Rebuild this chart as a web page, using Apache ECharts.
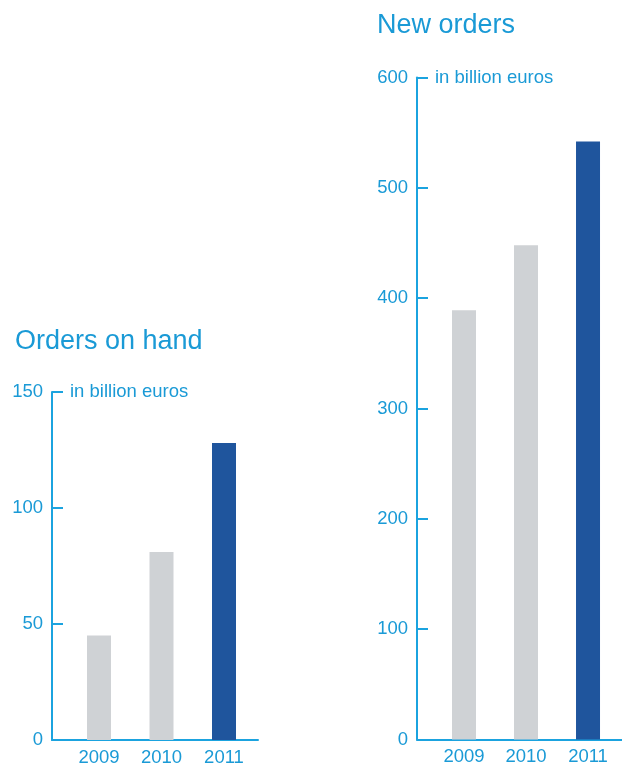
<!DOCTYPE html>
<html>
<head>
<meta charset="utf-8">
<script src="https://cdn.jsdelivr.net/npm/echarts@6/dist/echarts.min.js"></script>
<style>
html,body{margin:0;padding:0;background:#fff;}
#c{width:622px;height:764px;}
</style>
</head>
<body>
<div id="c"></div>
<script>
var categories = ['2009', '2010', '2011'];
var ordersOnHand = [45, 81, 128];
var newOrders = [389, 448, 542];
var barColors = ['#cfd2d5', '#cfd2d5', '#1f559d'];
var leftTicks = { min: 0, max: 150, interval: 50 };
var rightTicks = { min: 0, max: 600, interval: 100 };
var unitLabel = 'in billion euros';
var titles = ['Orders on hand', 'New orders'];

var cyan = '#1a9ad6';
var lineCyan = '#1ba3df';
var font = "'Liberation Sans', Arial, Helvetica, sans-serif";

function barData(vals) {
  return vals.map(function (v, i) {
    return { value: [i, v], itemStyle: { color: barColors[i] } };
  });
}

function xAxisFor(gridIndex, min, max) {
  return {
    type: 'value', gridIndex: gridIndex, min: min, max: max,
    splitLine: { show: false },
    axisTick: { show: false },
    axisLine: { show: true, onZero: false, lineStyle: { color: lineCyan, width: 2 } },
    axisLabel: {
      customValues: [0, 1, 2],
      formatter: function (v) { return categories[Math.round(v)] || ''; },
      color: cyan, fontSize: 18.5, fontFamily: font, margin: 8
    }
  };
}

function yAxisFor(gridIndex, t) {
  return {
    type: 'value', gridIndex: gridIndex, min: t.min, max: t.max, interval: t.interval,
    splitLine: { show: false },
    axisLine: { show: true, onZero: false, lineStyle: { color: lineCyan, width: 2 } },
    axisTick: { show: true, inside: true, length: 11, lineStyle: { color: lineCyan, width: 2 } },
    axisLabel: { color: cyan, fontSize: 18.5, fontFamily: font, margin: 9 },
    name: unitLabel,
    nameLocation: 'end',
    nameGap: 0,
    nameTextStyle: { color: cyan, fontSize: 18.5, fontFamily: font, align: 'left', verticalAlign: 'middle', padding: [0, 0, 0, 18] }
  };
}

var chart = echarts.init(document.getElementById('c'), null, { renderer: 'canvas' });
chart.setOption({
  animation: false,
  backgroundColor: '#fff',
  title: [
    { text: titles[0], left: 15, top: 328, padding: 0,
      textStyle: { color: cyan, fontSize: 27, fontWeight: 'normal', fontFamily: font } },
    { text: titles[1], left: 377, top: 12, padding: 0,
      textStyle: { color: cyan, fontSize: 27, fontWeight: 'normal', fontFamily: font } }
  ],
  grid: [
    { left: 52, top: 392, width: 206, bottom: 24, containLabel: false, outerBoundsMode: 'none' },
    { left: 417, top: 77.5, right: 0, bottom: 24.5, containLabel: false, outerBoundsMode: 'none' }
  ],
  xAxis: [ xAxisFor(0, -0.752, 2.544), xAxisFor(1, -0.758, 2.548) ],
  yAxis: [ yAxisFor(0, leftTicks), yAxisFor(1, rightTicks) ],
  series: [
    { type: 'bar', xAxisIndex: 0, yAxisIndex: 0, barWidth: 24, data: barData(ordersOnHand) },
    { type: 'bar', xAxisIndex: 1, yAxisIndex: 1, barWidth: 24, data: barData(newOrders) }
  ]
});
</script>
</body>
</html>
